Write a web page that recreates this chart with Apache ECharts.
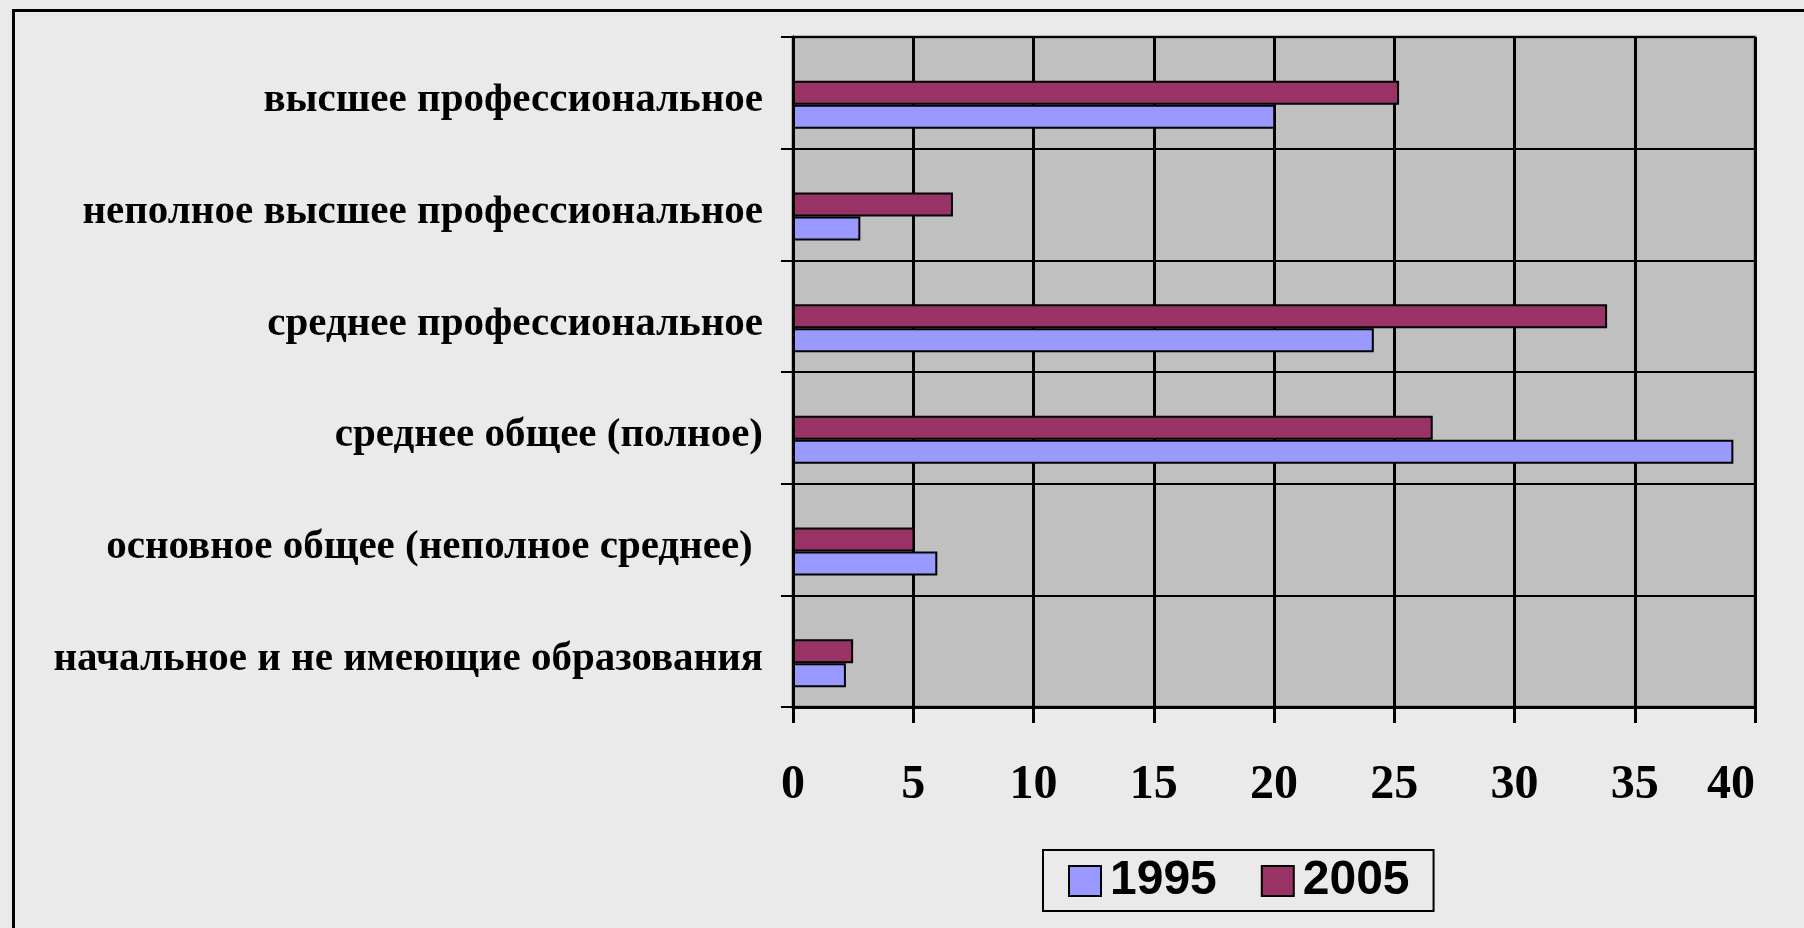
<!DOCTYPE html>
<html>
<head>
<meta charset="utf-8">
<script src="https://cdn.jsdelivr.net/npm/echarts@6/dist/echarts.min.js"></script>
<style>
  html, body { margin: 0; padding: 0; background: #eaeaea; }
  #main { width: 1804px; height: 928px; }
</style>
</head>
<body>
<div id="main"></div>
<script>
// категории снизу вверх (ось Y идёт снизу)
var categories = [
  'начальное и не имеющие образования',
  'основное общее (неполное среднее) ',
  'среднее общее (полное)',
  'среднее профессиональное',
  'неполное высшее профессиональное',
  'высшее профессиональное'
];
var seriesNames = ['1995', '2005'];
var values1995 = [2.2, 6.0, 39.1, 24.15, 2.8, 20.05];
var values2005 = [2.5, 5.05, 26.6, 33.85, 6.65, 25.2];
var xTicks = { min: 0, max: 40, step: 5 };

var myChart = echarts.init(document.getElementById('main'));

var barStyle = function (color) {
  return {
    color: color,
    borderColor: '#000',
    borderWidth: 2
  };
};

var option = {
  backgroundColor: '#eaeaea',
  animation: false,
  // внешняя рамка слайда
  graphic: [
    {
      type: 'rect',
      left: 11, top: 8,
      shape: { width: 1900, height: 1000 },
      style: { fill: 'none', stroke: '#000', lineWidth: 3 },
      z: 100
    }
  ],
  grid: {
    left: 793, right: 49, top: 37, bottom: 221,
    show: true,
    backgroundColor: '#c0c0c0',
    borderColor: '#808080',
    borderWidth: 3
  },
  legend: {
    data: seriesNames,
    left: 1043, top: 850,
    orient: 'horizontal',
    backgroundColor: '#eaeaea',
    borderColor: '#000',
    borderWidth: 2,
    borderRadius: 0,
    padding: [6, 24, 5, 25],
    itemWidth: 32,
    itemHeight: 30,
    itemGap: 44,
    icon: 'rect',
    textStyle: {
      fontFamily: 'Liberation Sans',
      fontWeight: 'bold',
      fontSize: 48,
      lineHeight: 50,
      color: '#000',
      padding: [0, 0, 0, 4]
    }
  },
  xAxis: {
    type: 'value',
    min: xTicks.min,
    max: xTicks.max,
    interval: xTicks.step,
    axisLine: { show: true, lineStyle: { color: '#000', width: 3 } },
    axisTick: { show: true, length: 16, lineStyle: { color: '#000', width: 3 } },
    splitLine: { show: true, lineStyle: { color: '#000', width: 3 } },
    axisLabel: {
      margin: 55,
      alignMaxLabel: 'right',
      fontFamily: 'Liberation Serif',
      fontWeight: 'bold',
      fontSize: 48,
      color: '#000'
    }
  },
  yAxis: {
    type: 'category',
    data: categories,
    boundaryGap: true,
    axisLine: { show: true, lineStyle: { color: '#000', width: 3 } },
    axisTick: { show: true, length: 12, lineStyle: { color: '#000', width: 2 } },
    splitLine: { show: true, lineStyle: { color: '#000', width: 2 } },
    axisLabel: {
      margin: 30,
      verticalAlign: 'top',
      lineHeight: 16,
      fontFamily: 'Liberation Serif',
      fontWeight: 'bold',
      fontSize: 41,
      color: '#000'
    }
  },
  series: [
    {
      // пустая серия сверху: сдвигает пару столбиков вниз, как в Excel
      name: 'spacer',
      type: 'bar',
      barWidth: 24,
      barGap: '0%',
      silent: true,
      data: categories.map(function () { return '-'; })
    },
    {
      name: '2005',
      type: 'bar',
      barWidth: 24,
      barGap: '0%',
      itemStyle: barStyle('#993366'),
      data: values2005
    },
    {
      name: '1995',
      type: 'bar',
      barWidth: 24,
      barGap: '0%',
      itemStyle: barStyle('#9999ff'),
      data: values1995
    }
  ]
};

myChart.setOption(option);
</script>
</body>
</html>
